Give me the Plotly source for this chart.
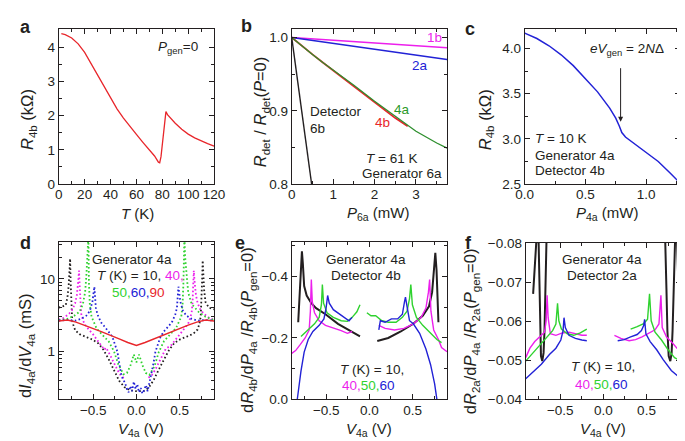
import plotly.graph_objects as go

# ---------------- data ----------------
# (a) R4b vs T, Pgen = 0
a_T = [2, 5, 10, 15, 20, 25, 30, 35, 40, 45, 50, 55, 60, 65, 70, 74, 77, 78, 79, 80.5, 82, 82.8, 84, 87, 90, 95, 100, 105, 110, 115, 120]
a_R = [4.40, 4.37, 4.27, 4.10, 3.85, 3.52, 3.17, 2.82, 2.50, 2.20, 1.93, 1.68, 1.45, 1.22, 1.00, 0.82, 0.64, 0.62, 0.80, 1.40, 2.00, 2.12, 2.03, 1.90, 1.78, 1.60, 1.46, 1.35, 1.26, 1.18, 1.11]

# (b) Rdet/Rdet(P=0) vs P6a
b_P_lin = [0.0, 3.75]
b_1b = [1.0, 0.986]
b_2a = [1.0, 0.970]
b_P = [0.0, 0.25, 0.5, 0.75, 1.0, 1.5, 2.0, 2.5, 3.0, 3.5, 3.75]
b_4a = [1.0, 0.988, 0.977, 0.966, 0.956, 0.935, 0.913, 0.892, 0.872, 0.856, 0.849]
b_P4b = [0.0, 0.25, 0.5, 0.75, 1.0, 1.5, 2.0, 2.5, 2.8]
b_4b = [1.0, 0.988, 0.977, 0.966, 0.955, 0.933, 0.911, 0.890, 0.879]
b_P6b = [0.0, 0.2, 0.48]
b_6b = [1.0, 0.917, 0.8]

# (c) R4b vs P4a at 10 K
c_P = [0.0, 0.1, 0.2, 0.3, 0.4, 0.5, 0.6, 0.7, 0.75, 0.78, 0.8, 0.83, 0.88, 0.95, 1.0, 1.1, 1.2, 1.28]
c_R = [4.17, 4.11, 4.03, 3.93, 3.81, 3.67, 3.52, 3.34, 3.23, 3.14, 3.07, 3.02, 2.97, 2.90, 2.86, 2.75, 2.62, 2.51]
c_arrow_P = 0.79
c_arrow_R = 3.19

# (d) dI/dV vs V4a (mS)
d_V10 = [-0.90, -0.86, -0.82, -0.80, -0.785, -0.775, -0.768, -0.762, -0.755, -0.745, -0.73, -0.71, -0.66, -0.59, -0.51, -0.44, -0.38, -0.32, -0.26, -0.20, -0.14, -0.08, 0.0,
         0.08, 0.14, 0.20, 0.26, 0.32, 0.38, 0.44, 0.51, 0.59, 0.66, 0.71, 0.73, 0.745, 0.755, 0.762, 0.768, 0.775, 0.785, 0.80, 0.84, 0.90]
d_G10 = [4.0, 4.1, 4.3, 5.5, 8.0, 13.0, 19.0, 9.0, 4.0, 2.75, 2.3, 1.95, 1.72, 1.57, 1.45, 1.28, 1.04, 0.77, 0.56, 0.39, 0.32, 0.29, 0.28,
         0.28, 0.31, 0.40, 0.56, 0.78, 1.05, 1.30, 1.47, 1.60, 1.75, 2.0, 2.4, 3.0, 5.0, 10.0, 18.0, 12.0, 7.0, 4.8, 4.0, 3.8]
d_V40 = [-0.90, -0.84, -0.78, -0.74, -0.71, -0.69, -0.675, -0.665, -0.657, -0.65, -0.64, -0.62, -0.60, -0.55, -0.50, -0.45, -0.40, -0.37, -0.355, -0.34, -0.30, -0.26, -0.22, -0.18, -0.14,
         None,
         0.14, 0.18, 0.22, 0.26, 0.30, 0.34, 0.40, 0.45, 0.50, 0.55, 0.60, 0.62, 0.64, 0.65, 0.657, 0.665, 0.675, 0.69, 0.71, 0.74, 0.78, 0.84, 0.90]
d_G40 = [2.72, 2.9, 3.3, 3.8, 4.6, 6.0, 9.0, 13.0, 8.0, 4.5, 3.3, 2.7, 2.36, 1.98, 1.7, 1.4, 1.17, 1.05, 1.12, 1.06, 0.86, 0.68, 0.55, 0.46, 0.42,
         None,
         0.43, 0.47, 0.56, 0.70, 0.88, 1.08, 1.20, 1.42, 1.72, 2.0, 2.4, 2.8, 3.4, 4.6, 8.0, 13.0, 9.0, 6.0, 4.6, 3.8, 3.3, 2.9, 2.72]
d_V50 = [-0.90, -0.80, -0.72, -0.66, -0.62, -0.595, -0.58, -0.57, -0.563, -0.556, -0.55, -0.54, -0.52, -0.46, -0.39, -0.32, -0.26, -0.21, -0.15, -0.11, -0.07, -0.03, 0.0,
         0.03, 0.07, 0.11, 0.15, 0.21, 0.26, 0.32, 0.39, 0.46, 0.52, 0.535, 0.545, 0.55, 0.556, 0.565, 0.58, 0.60, 0.64, 0.72, 0.80, 0.90]
d_G50 = [2.68, 2.8, 3.1, 3.5, 4.5, 6.5, 11.0, 20.0, 40.0, 40.0, 9.0, 4.5, 3.0, 2.05, 1.66, 1.36, 1.0, 0.66, 0.48, 0.50, 0.63, 0.90, 0.70,
         0.90, 0.64, 0.50, 0.47, 0.62, 0.98, 1.38, 1.70, 2.10, 3.0, 4.5, 9.0, 40.0, 40.0, 20.0, 11.0, 6.5, 4.5, 3.5, 3.0, 2.68]
d_V60 = [-0.90, -0.80, -0.71, -0.64, -0.58, -0.54, -0.51, -0.495, -0.487, -0.478, -0.47, -0.45, -0.41, -0.37, -0.33, -0.28, -0.24, -0.22, -0.20, -0.18,
         -0.16, -0.13, -0.11, -0.09, -0.07, -0.05, -0.03, -0.01, 0.01, 0.03, 0.05, 0.07, 0.09, 0.11, 0.13, 0.16,
         0.18, 0.20, 0.22, 0.24, 0.28, 0.33, 0.37, 0.41, 0.45, 0.47, 0.478, 0.487, 0.495, 0.51, 0.54, 0.58, 0.64, 0.71, 0.80, 0.90]
d_G60 = [2.65, 2.7, 2.65, 2.8, 3.1, 3.6, 4.8, 6.5, 7.8, 5.5, 4.0, 3.2, 2.5, 2.2, 1.92, 1.6, 1.15, 0.98, 0.70, 0.50,
         0.42, 0.36, 0.30, 0.27, 0.33, 0.28, 0.38, 0.30, 0.35, 0.27, 0.31, 0.26, 0.29, 0.34, 0.28, 0.40,
         0.50, 0.70, 0.98, 1.15, 1.6, 1.95, 2.2, 2.5, 3.2, 4.0, 5.5, 7.8, 6.5, 4.8, 3.6, 3.1, 2.8, 2.65, 2.7, 2.65]
d_V90 = [-0.9, -0.8, -0.7, -0.6, -0.5, -0.4, -0.3, -0.2, -0.1, 0.0, 0.1, 0.2, 0.3, 0.4, 0.5, 0.6, 0.7, 0.8, 0.9]
d_G90 = [2.62, 2.70, 2.52, 2.30, 2.05, 1.85, 1.67, 1.48, 1.32, 1.20, 1.32, 1.48, 1.67, 1.85, 2.05, 2.30, 2.52, 2.70, 2.62]

# (e) dR4b/dP4a / R4b(Pgen=0)
e_V10 = [-0.825, -0.807, -0.793, -0.782, -0.771, -0.756, -0.727, -0.673, -0.618, -0.509, -0.364, -0.218, -0.109,
         None,
         0.091, 0.218, 0.364, 0.509, 0.618, 0.691, 0.727, 0.745, 0.764, 0.778, 0.789, 0.80]
e_S10 = [-0.251, -0.349, -0.441, -0.482, -0.441, -0.369, -0.338, -0.313, -0.297, -0.277, -0.246, -0.221, -0.205,
         None,
         -0.190, -0.200, -0.221, -0.246, -0.272, -0.303, -0.349, -0.421, -0.477, -0.421, -0.328, -0.251]
e_V40 = [-0.90, -0.855, -0.80, -0.745, -0.698, -0.684, -0.673, -0.662, -0.636, -0.582, -0.509, -0.40, -0.327, -0.255, -0.20,
         None,
         0.109, 0.182, 0.291, 0.40, 0.509, 0.60, 0.655, 0.684, 0.698, 0.713, 0.745, 0.80, 0.836, 0.90]
e_S40 = [-0.150, -0.159, -0.179, -0.200, -0.226, -0.287, -0.390, -0.318, -0.282, -0.256, -0.241, -0.231, -0.224, -0.215, -0.221,
         None,
         -0.241, -0.231, -0.226, -0.231, -0.246, -0.267, -0.297, -0.349, -0.390, -0.287, -0.226, -0.195, -0.169, -0.155]
e_V50 = [-0.793, -0.709, -0.636, -0.582, -0.556, -0.545, -0.531, -0.491, -0.418, -0.327, -0.255, -0.20, -0.145, -0.109,
         None,
         -0.029, 0.018, 0.073, 0.145, 0.218, 0.309, 0.382, 0.436, 0.465, 0.48, 0.498, 0.545, 0.618, 0.709, 0.782, 0.836]
e_S50 = [-0.205, -0.226, -0.246, -0.267, -0.308, -0.374, -0.313, -0.282, -0.267, -0.256, -0.254, -0.267, -0.285, -0.308,
         None,
         -0.282, -0.272, -0.272, -0.256, -0.251, -0.251, -0.267, -0.287, -0.328, -0.374, -0.308, -0.267, -0.241, -0.215, -0.195, -0.185]
e_V60 = [-0.836, -0.818, -0.793, -0.756, -0.709, -0.655, -0.582, -0.527, -0.502, -0.484, -0.465, -0.418, -0.345, -0.273, -0.236, -0.20,
         None,
         0.109, 0.127, 0.182, 0.255, 0.327, 0.382, 0.407, 0.418, 0.436, 0.465, 0.509, 0.582, 0.655, 0.709, 0.756, 0.782]
e_S60 = [0.0, -0.041, -0.092, -0.154, -0.195, -0.221, -0.241, -0.262, -0.297, -0.338, -0.313, -0.292, -0.277, -0.262, -0.256, -0.267,
         None,
         -0.226, -0.256, -0.251, -0.262, -0.262, -0.277, -0.318, -0.333, -0.303, -0.256, -0.246, -0.215, -0.164, -0.113, -0.051, 0.0]

# (f) dR2a/dP4a / R2a(Pgen=0)
f_V10 = [-0.814, -0.795, -0.776, -0.765, -0.75, -0.742, -0.734, -0.723, -0.708, -0.693, -0.682, -0.670, -0.663, -0.655,
         None,
         0.712, 0.719, 0.731, 0.742, 0.757, 0.776, 0.791, 0.802, 0.814, 0.825, 0.836, 0.845, 0.855, 0.87]
f_S10 = [-0.0670, -0.0724, -0.0800, -0.0847, -0.0800, -0.0683, -0.0576, -0.0511, -0.0498, -0.0519, -0.0576, -0.0683, -0.0800, -0.0847,
         None,
         -0.0847, -0.0800, -0.0683, -0.0576, -0.0511, -0.0498, -0.0519, -0.0576, -0.0683, -0.0800, -0.0847, -0.0847, -0.0800, -0.0687]
f_V40 = [-0.90, -0.851, -0.795, -0.738, -0.682, -0.663, -0.652, -0.64, -0.614, -0.55, -0.475, -0.399, -0.324, -0.249, -0.192,
         None,
         0.128, 0.203, 0.298, 0.373, 0.448, 0.524, 0.599, 0.644, 0.667, 0.682, 0.731, 0.806, 0.90]
f_S40 = [-0.0507, -0.0531, -0.0548, -0.0560, -0.0572, -0.0601, -0.0666, -0.0609, -0.0568, -0.0564, -0.0570, -0.0572, -0.0568, -0.0564, -0.0564,
         None,
         -0.0564, -0.0556, -0.0550, -0.0553, -0.0560, -0.0568, -0.0578, -0.0593, -0.0666, -0.0584, -0.0560, -0.0543, -0.0519]
f_V50 = [-0.90, -0.832, -0.757, -0.663, -0.588, -0.55, -0.531, -0.516, -0.486, -0.418, -0.343, -0.267, -0.192,
         None,
         0.316, 0.392, 0.467, 0.512, 0.535, 0.554, 0.599, 0.674, 0.75, 0.825, 0.90]
f_S50 = [-0.0498, -0.0515, -0.0535, -0.0560, -0.0576, -0.0593, -0.0646, -0.0601, -0.0580, -0.0568, -0.0564, -0.0570, -0.0580,
         None,
         -0.0580, -0.0586, -0.0594, -0.0605, -0.0670, -0.0601, -0.0572, -0.0552, -0.0527, -0.0507, -0.0498]
f_V60 = [-0.90, -0.814, -0.719, -0.625, -0.55, -0.493, -0.467, -0.456, -0.441, -0.399, -0.324, -0.249, -0.192,
         None,
         0.166, 0.241, 0.316, 0.392, 0.441, 0.467, 0.478, 0.493, 0.542, 0.618, 0.693, 0.787, 0.90]
f_S60 = [-0.0453, -0.0470, -0.0490, -0.0515, -0.0531, -0.0552, -0.0576, -0.0609, -0.0584, -0.0564, -0.0556, -0.0552, -0.0550,
         None,
         -0.0550, -0.0553, -0.0560, -0.0566, -0.0576, -0.0589, -0.0605, -0.0568, -0.0548, -0.0527, -0.0502, -0.0474, -0.0453]

# ---------------- style ----------------
W, H = 685, 441
FONT = "Liberation Sans, Arial, Helvetica, sans-serif"
INK = "#231f20"
RED = "#e8262b"
MAG = "#ec1fec"
GRN = "#2fd22f"
GRN_B = "#2e8f2e"
BLU = "#2222d6"
TS = 13.5
TT = 15     # x-axis title size
TY = 16.5   # y-axis title size


def dx(x0, x1):
    return [x0 / W, x1 / W]


def dy(y0, y1):
    return [1 - y1 / H, 1 - y0 / H]


def axis(domain, rng, anchor, minor=None, **kw):
    d = dict(domain=domain, range=rng, anchor=anchor, showline=True, linecolor=INK, linewidth=1,
             mirror="allticks", ticks="inside", ticklen=5, tickwidth=1, tickcolor=INK,
             showgrid=False, zeroline=False, fixedrange=True,
             tickfont=dict(size=TS, color=INK, family=FONT))
    if minor is not None:
        m = dict(ticks="inside", ticklen=3, tickwidth=1, tickcolor=INK, showgrid=False)
        m.update(minor)
        d["minor"] = m
    d.update(kw)
    return d


fig = go.Figure()


def line(x, y, ax, color, width=1.4, dash="solid"):
    fig.add_trace(go.Scatter(x=x, y=y, xaxis="x" + ax, yaxis="y" + ax, mode="lines",
                             line=dict(color=color, width=width, dash=dash), connectgaps=False,
                             hoverinfo="skip"))


DOTS = "1.6px,2.4px"
# a
line(a_T, a_R, "", RED, 1.3)
# b
line(b_P_lin, b_1b, "2", MAG, 1.4)
line(b_P_lin, b_2a, "2", BLU, 1.4)
line(b_P4b, b_4b, "2", RED, 1.8)
line(b_P, b_4a, "2", GRN_B, 1.3)
line(b_P6b, b_6b, "2", INK, 1.4)
# c
line(c_P, c_R, "3", BLU, 1.5)
# d
line(d_V10, d_G10, "4", INK, 1.8, DOTS)
line(d_V40, d_G40, "4", MAG, 1.8, DOTS)
line(d_V50, d_G50, "4", GRN, 1.8, DOTS)
line(d_V60, d_G60, "4", BLU, 1.8, DOTS)
line(d_V90, d_G90, "4", RED, 1.4)
# e
line(e_V10, e_S10, "5", INK, 2.0)
line(e_V40, e_S40, "5", MAG, 1.4)
line(e_V50, e_S50, "5", GRN, 1.4)
line(e_V60, e_S60, "5", BLU, 1.4)
# f
line(f_V10, f_S10, "6", INK, 2.0)
line(f_V40, f_S40, "6", MAG, 1.4)
line(f_V50, f_S50, "6", GRN, 1.4)
line(f_V60, f_S60, "6", BLU, 1.4)

XS = dict(ticklabelstandoff=-2)
layout = dict(
    width=W, height=H, margin=dict(l=0, r=0, t=0, b=0),
    paper_bgcolor="white", plot_bgcolor="white", showlegend=False,
    font=dict(family=FONT, color=INK, size=TS),
    xaxis=axis(dx(43, 203), [0, 120], "y", dict(dtick=10), dtick=20, tick0=0, **XS),
    yaxis=axis(dy(15, 175), [0, 4.52], "x", dict(dtick=0.5), dtick=1, tick0=0),
    xaxis2=axis(dx(283, 443), [0, 3.75], "y2", dict(dtick=0.5), dtick=1, tick0=0, **XS),
    yaxis2=axis(dy(15, 175), [0.8, 1.011], "x2", dict(dtick=0.05), dtick=0.1, tick0=0.8, tickformat=".1f"),
    xaxis3=axis(dx(523, 683), [0, 1.28], "y3", dict(dtick=0.25), dtick=0.5, tick0=0, tickformat=".1f", **XS),
    yaxis3=axis(dy(15, 175), [2.5, 4.21], "x3", dict(dtick=0.25), dtick=0.5, tick0=2.5, tickformat=".1f"),
    xaxis4=axis(dx(43, 203), [-0.9, 0.9], "y4", dict(dtick=0.25), dtick=0.5, tick0=0, tickformat=".1f", **XS),
    yaxis4=axis(dy(235, 398), [-0.667, 1.51], "x4",
                dict(tickmode="array", tickvals=[0.3, 0.4, 0.5, 0.6, 0.7, 0.8, 0.9, 2, 3, 4, 5, 6, 7, 8, 9, 20, 30]),
                type="log", tickmode="array", tickvals=[1, 10], ticktext=["1", "10"]),
    xaxis5=axis(dx(283, 443), [-0.9, 0.9], "y5", dict(dtick=0.25), dtick=0.5, tick0=0, tickformat=".1f", **XS),
    yaxis5=axis(dy(235, 398), [0, -0.512], "x5", dict(tickmode="array", tickvals=[-0.1, -0.3, -0.5]),
                tickmode="array", tickvals=[0, -0.2, -0.4], tickformat=".1f"),
    xaxis6=axis(dx(524, 684), [-0.9, 0.9], "y6", dict(dtick=0.25), dtick=0.5, tick0=0, tickformat=".1f", **XS),
    yaxis6=axis(dy(236, 398), [-0.04, -0.08], "x6", None,
                tickmode="array", tickvals=[-0.04, -0.05, -0.06, -0.07, -0.08], tickformat=".2f"),
)
fig.update_layout(**layout)

anns = []


def ann(text, px, py, size=TS, color=INK, xanchor="center", angle=0, yanchor="middle"):
    anns.append(dict(text=text, x=px / W, y=1 - py / H, xref="paper", yref="paper",
                     xanchor=xanchor, yanchor=yanchor, showarrow=False, textangle=angle,
                     font=dict(size=size, color=color, family=FONT)))


def span(t, c):
    return "<span style='color:%s'>%s</span>" % (c, t)


# panel letters
for t, px, py in [("a", 1, 12), ("b", 229, 11), ("c", 459, 15), ("d", 1, 236), ("e", 222, 236), ("f", 459, 236)]:
    ann("<b>%s</b>" % t, px, py, size=18, xanchor="left")

# axis titles
ann("<i>R</i><sub>4b</sub> (kΩ)", 12, 108, TY, angle=-90)
ann("<i>T</i> (K)", 124, 205, TT)
ann("<i>R</i><sub>det</sub> / <i>R</i><sub>det</sub>(<i>P</i>=0)", 251, 100, TY, angle=-90)
ann("<i>P</i><sub>6a</sub> (mW)", 372, 205, TT)
ann("<i>R</i><sub>4b</sub> (kΩ)", 483, 108, TY, angle=-90)
ann("<i>P</i><sub>4a</sub> (mW)", 608, 205, TT)
ann("d<i>I</i><sub>4a</sub>/d<i>V</i><sub>4a</sub> (mS)", 10, 342, TY, angle=-90)
ann("<i>V</i><sub>4a</sub> (V)", 128, 429, TT)
ann("d<i>R</i><sub>4b</sub>/d<i>P</i><sub>4a</sub> /<i>R</i><sub>4b</sub>(<i>P</i><sub>gen</sub>=0)", 238, 326, TY, angle=-90)
ann("<i>V</i><sub>4a</sub> (V)", 363, 429, TT)
ann("d<i>R</i><sub>2a</sub>/d<i>P</i><sub>4a</sub> /<i>R</i><sub>2a</sub>(<i>P</i><sub>gen</sub>=0)", 468, 327, TY, angle=-90)
ann("<i>V</i><sub>4a</sub> (V)", 604, 429, TT)

# panel a
ann("<i>P</i><sub>gen</sub>=0", 166, 34)
# panel b
ann("1b", 430, 23, color=MAG)
ann("2a", 415, 52, color=BLU)
ann("4a", 397, 98, color="#2a9a2a")
ann("4b", 377, 111, color=RED)
ann("Detector", 300, 100, xanchor="left")
ann("6b", 300, 117, xanchor="left")
ann("<i>T</i> = 61 K", 386, 149)
ann("Generator 6a", 397, 164)
# panel c
ann("<i>eV</i><sub>gen</sub> = 2<i>N</i>Δ", 628, 36)
ann("<i>T</i> = 10 K", 532, 128, xanchor="left")
ann("Generator 4a", 532, 145, xanchor="left")
ann("Detector 4b", 532, 161, xanchor="left")
anns.append(dict(x=c_arrow_P, y=c_arrow_R, xref="x3", yref="y3", text="", showarrow=True,
                 ax=0, ay=-55, arrowhead=2, arrowsize=1, arrowwidth=1, arrowcolor=INK))
# panel d
ann("Generator 4a", 118, 253)
ann("<i>T</i> (K) = 10, " + span("40,", MAG), 127, 270)
ann(span("50,", GRN) + span("60,", BLU) + span("90", RED), 125, 287)
# panel e
ann("Generator 4a", 360, 253)
ann("Detector 4b", 360, 270)
ann("<i>T</i> (K) = 10,", 366, 367)
ann(span("40,", MAG) + span("50,", GRN) + span("60", BLU), 362, 384)
# panel f
ann("Generator 4a", 603, 253)
ann("Detector 2a", 603, 270)
ann("<i>T</i> (K) = 10,", 604, 364)
ann(span("40,", MAG) + span("50,", GRN) + span("60", BLU), 602, 383)

fig.update_layout(annotations=anns)
fig.write_html("out.html")
